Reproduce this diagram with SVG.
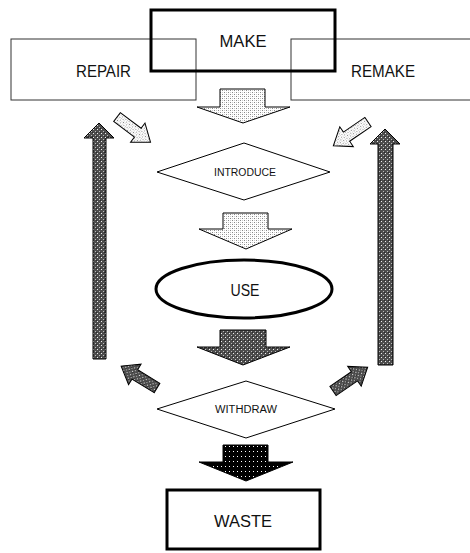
<svg xmlns="http://www.w3.org/2000/svg" width="470" height="553" viewBox="0 0 470 553">
<style>
text{font-family:"Liberation Sans",Arial,sans-serif;fill:#111;text-anchor:middle}
.big{font-size:16px}
.small{font-size:10px}
.box{fill:none;stroke:#333;stroke-width:1}
.thick{fill:none;stroke:#000;stroke-width:3}
.dia{fill:#fff;stroke:#000;stroke-width:1}
.arr{stroke:#000;stroke-width:1;stroke-linejoin:miter}
.light{fill:url(#pL)}
.med{fill:url(#pM)}
.dark{fill:url(#pD)}
</style>
<defs>
<pattern id="pL" width="4" height="4" patternUnits="userSpaceOnUse"><rect width="4" height="4" fill="#fff"/><rect width="1" height="1" fill="#888"/><rect x="2" y="2" width="1" height="1" fill="#888"/><rect x="2" y="0" width="1" height="1" fill="#ccc"/><rect x="0" y="2" width="1" height="1" fill="#ccc"/></pattern>
<pattern id="pM" width="4" height="4" patternUnits="userSpaceOnUse"><rect width="4" height="4" fill="#4d4d4d"/><rect x="1" y="1" width="1" height="1" fill="#eee"/><rect x="3" y="3" width="1" height="1" fill="#bbb"/><rect x="0" y="0" width="1" height="1" fill="#2a2a2a"/></pattern>
<pattern id="pD" width="4" height="5" patternUnits="userSpaceOnUse"><rect width="4" height="5" fill="#000"/><rect x="1" y="1" width="1" height="1" fill="#fff"/></pattern>
</defs>

<g id="connectors">
<path class="arr light" d="M220,89 H265 V107 H290 L243,123 L197,107 H220 Z"/>
<path class="arr light" d="M223,213 H268 V229 H292 L246,249 L199,229 H223 Z"/>
<path class="arr med" d="M220,330 H266 V347 H290 L243,365 L197,347 H220 Z"/>
<path class="arr dark" d="M223,445 H268 V462 H293 L246,481 L199,462 H223 Z"/>
<path class="arr med" d="M93,359 V138 H84 L99,123 L114,138 H106 V359 Z"/>
<path class="arr med" d="M378,365 V144 H370 L385,129 L400,144 H393 V365 Z"/>
<path class="arr light" transform="translate(117,117) rotate(37)" d="M0,-5.5 H26 V-12 L42,0 L26,12 V5.5 H0 Z"/>
<path class="arr light" transform="translate(368,122) rotate(145.6)" d="M0,-5.5 H26 V-12 L42,0 L26,12 V5.5 H0 Z"/>
<path class="arr med" transform="translate(157,388) rotate(211.4)" d="M0,-5.5 H26 V-12 L42,0 L26,12 V5.5 H0 Z"/>
<path class="arr med" transform="translate(333,391) rotate(-34.4)" d="M0,-5.5 H26 V-12 L42,0 L26,12 V5.5 H0 Z"/>
</g>

<g id="repair">
<rect class="box" x="11" y="39" width="185" height="61"/>
<text class="big" x="103.5" y="77" textLength="55" lengthAdjust="spacingAndGlyphs">REPAIR</text>
</g>
<g id="remake">
<rect class="box" x="291" y="39" width="190" height="61"/>
<text class="big" x="383" y="77" textLength="64" lengthAdjust="spacingAndGlyphs">REMAKE</text>
</g>
<g id="make">
<rect class="thick" x="151" y="10" width="184" height="61"/>
<text class="big" x="243" y="47" textLength="47" lengthAdjust="spacingAndGlyphs">MAKE</text>
</g>
<g id="introduce">
<polygon class="dia" points="157,172 244,143 330,172 244,200"/>
<text class="small" x="245" y="176" textLength="62" lengthAdjust="spacingAndGlyphs">INTRODUCE</text>
</g>
<g id="use">
<ellipse cx="244" cy="289" rx="88" ry="29" fill="#fff" stroke="#000" stroke-width="3"/>
<text x="245" y="296" font-size="17" textLength="29" lengthAdjust="spacingAndGlyphs">USE</text>
</g>
<g id="withdraw">
<polygon class="dia" points="157,409 246,381 335,409 246,438"/>
<text class="small" x="246" y="413" textLength="62" lengthAdjust="spacingAndGlyphs">WITHDRAW</text>
</g>
<g id="waste">
<rect class="thick" x="167" y="490" width="153" height="59"/>
<text class="big" x="243" y="527" textLength="58" lengthAdjust="spacingAndGlyphs">WASTE</text>
</g>
</svg>
